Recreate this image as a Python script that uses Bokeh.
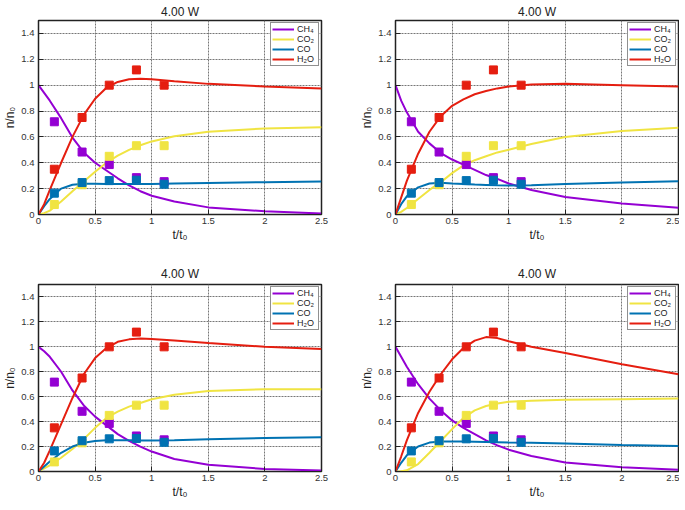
from bokeh.plotting import figure
from bokeh.layouts import column, row
from bokeh.models import Legend, LegendItem, FixedTicker, Range1d
from bokeh.embed import file_html
from bokeh.resources import INLINE

# ---------------- data ----------------
title_text = "4.00 W"
species = ["CH₄", "CO₂", "CO", "H₂O"]
colors = ["#9400D3", "#F0E442", "#0072B2", "#E51E10"]

x_ticks = [0, 0.5, 1, 1.5, 2, 2.5]
x_tick_labels = ["0", "0.5", "1", "1.5", "2", "2.5"]
y_ticks = [0, 0.2, 0.4, 0.6, 0.8, 1.0, 1.2, 1.4]
y_tick_labels = ["0", "0.2", "0.4", "0.6", "0.8", "1", "1.2", "1.4"]

# experimental points (same in every panel)
t_exp = [0.14, 0.385, 0.625, 0.865, 1.11]
ch4_exp = [0.717, 0.483, 0.386, 0.285, 0.254]
co2_exp = [0.077, 0.23, 0.45, 0.532, 0.532]
co_exp = [0.165, 0.247, 0.262, 0.265, 0.234]
h2o_exp = [0.35, 0.75, 1.0, 1.118, 1.0]

# model curves
t_model = [0, 0.05, 0.1, 0.2, 0.3, 0.4, 0.5, 0.6, 0.7, 0.8, 0.9, 1.0, 1.2, 1.5, 2.0, 2.5]

ch4_a = [1.0, 0.94, 0.88, 0.745, 0.595, 0.48, 0.40, 0.34, 0.28, 0.225, 0.18, 0.145, 0.10, 0.055, 0.025, 0.008]
co2_a = [0, 0.01, 0.03, 0.10, 0.18, 0.255, 0.33, 0.40, 0.455, 0.50, 0.535, 0.565, 0.605, 0.64, 0.665, 0.675]
co_a = [0, 0.065, 0.12, 0.20, 0.23, 0.238, 0.237, 0.236, 0.235, 0.235, 0.235, 0.236, 0.239, 0.243, 0.25, 0.255]
h2o_a = [0, 0.08, 0.19, 0.40, 0.60, 0.77, 0.895, 0.98, 1.025, 1.045, 1.05, 1.045, 1.03, 1.01, 0.99, 0.975]

ch4_b = [1.0, 0.88, 0.79, 0.64, 0.55, 0.475, 0.425, 0.385, 0.345, 0.305, 0.275, 0.24, 0.19, 0.135, 0.085, 0.053]
co2_b = [0, 0.02, 0.05, 0.12, 0.19, 0.25, 0.32, 0.38, 0.42, 0.45, 0.48, 0.50, 0.545, 0.60, 0.645, 0.67]
co_b = [0, 0.08, 0.14, 0.21, 0.24, 0.245, 0.24, 0.236, 0.232, 0.229, 0.226, 0.225, 0.226, 0.235, 0.248, 0.258]
h2o_b = [0, 0.13, 0.26, 0.47, 0.64, 0.76, 0.84, 0.89, 0.93, 0.955, 0.975, 0.99, 1.005, 1.01, 1.0, 0.99]

ch4_c = [1.0, 0.965, 0.92, 0.80, 0.65, 0.53, 0.44, 0.37, 0.30, 0.245, 0.20, 0.16, 0.10, 0.055, 0.02, 0.008]
co2_c = [0, 0.025, 0.05, 0.11, 0.18, 0.26, 0.35, 0.43, 0.48, 0.52, 0.55, 0.58, 0.615, 0.645, 0.66, 0.66]
co_c = [0, 0.04, 0.08, 0.15, 0.20, 0.23, 0.245, 0.25, 0.25, 0.25, 0.249, 0.248, 0.25, 0.258, 0.268, 0.275]
h2o_c = [0, 0.07, 0.17, 0.38, 0.59, 0.78, 0.91, 0.99, 1.04, 1.06, 1.067, 1.063, 1.05, 1.03, 1.0, 0.982]

ch4_d = [1.0, 0.92, 0.84, 0.70, 0.585, 0.49, 0.41, 0.35, 0.30, 0.25, 0.21, 0.175, 0.125, 0.072, 0.034, 0.015]
co2_d = [0, 0.003, 0.01, 0.06, 0.15, 0.245, 0.34, 0.43, 0.49, 0.525, 0.545, 0.56, 0.568, 0.575, 0.58, 0.585]
co_d = [0, 0.07, 0.13, 0.20, 0.232, 0.24, 0.241, 0.24, 0.239, 0.237, 0.235, 0.233, 0.23, 0.225, 0.212, 0.205]
h2o_d = [0, 0.12, 0.25, 0.47, 0.64, 0.78, 0.90, 0.99, 1.05, 1.078, 1.07, 1.045, 1.0, 0.95, 0.86, 0.78]

exp_series = [ch4_exp, co2_exp, co_exp, h2o_exp]
panels = [
    [ch4_a, co2_a, co_a, h2o_a],
    [ch4_b, co2_b, co_b, h2o_b],
    [ch4_c, co2_c, co_c, h2o_c],
    [ch4_d, co2_d, co_d, h2o_d],
]

FONT = "Liberation Sans"


def make_panel(models, fw, fh, bl, br, bt, bb, title_standoff):
    p = figure(frame_width=fw, frame_height=fh,
               x_range=Range1d(0, 2.5), y_range=Range1d(0, 1.5),
               output_backend="svg", toolbar_location=None,
               min_border_left=bl, min_border_right=br,
               min_border_top=bt, min_border_bottom=bb,
               background_fill_color="white", border_fill_color="white")
    p.title.text = title_text
    p.title.align = "center"
    p.title.text_font = FONT
    p.title.text_font_size = "12px"
    p.title.text_font_style = "normal"
    p.title.text_color = "#222222"
    p.title.standoff = title_standoff

    p.outline_line_color = "#222222"
    p.outline_line_width = 1.5

    for ax in (p.xaxis, p.yaxis):
        ax.major_tick_in = 5
        ax.major_tick_out = 0
        ax.minor_tick_line_color = None
        ax.axis_line_color = "#222222"
        ax.major_tick_line_color = "#222222"
        ax.major_label_text_font = FONT
        ax.major_label_text_font_size = "9.5px"
        ax.major_label_text_color = "#333333"
        ax.axis_label_text_font = FONT
        ax.axis_label_text_font_size = "12px"
        ax.axis_label_text_font_style = "normal"
        ax.axis_label_text_color = "#222222"

    p.xaxis.ticker = FixedTicker(ticks=x_ticks)
    p.yaxis.ticker = FixedTicker(ticks=y_ticks)
    p.xaxis.major_label_overrides = {k: v for k, v in zip(x_ticks, x_tick_labels)}
    p.yaxis.major_label_overrides = {k: v for k, v in zip(y_ticks, y_tick_labels)}
    p.xaxis.axis_label = "t/t₀"
    p.yaxis.axis_label = "n/n₀"
    p.xaxis.major_label_standoff = 3
    p.yaxis.major_label_standoff = 4
    p.xaxis.axis_label_standoff = 1
    p.yaxis.axis_label_standoff = 1

    for g in (p.xgrid, p.ygrid):
        g.grid_line_color = "#777777"
        g.grid_line_dash = "2 1"
        g.grid_line_width = 1
    p.xgrid.ticker = FixedTicker(ticks=x_ticks)
    p.ygrid.ticker = FixedTicker(ticks=y_ticks)

    items = []
    for name, col, m in zip(species, colors, models):
        r = p.line(t_model, m, line_color=col, line_width=2)
        items.append(LegendItem(label=name, renderers=[r]))
    for col, e in zip(colors, exp_series):
        p.scatter(t_exp, e, marker="square", size=8, fill_color=col, line_color=col)

    leg = Legend(items=items, location="top_right")
    leg.label_text_font = FONT
    leg.label_text_font_size = "9px"
    leg.label_text_color = "#222222"
    leg.label_height = 6
    leg.glyph_height = 6
    leg.glyph_width = 22
    leg.spacing = 0
    leg.padding = 1
    leg.margin = 2
    leg.label_standoff = 3
    leg.border_line_color = "#222222"
    leg.border_line_width = 1.5
    leg.background_fill_alpha = 1
    p.add_layout(leg, "center")
    return p


p1 = make_panel(panels[0], 283, 194, 33, 36, 12, 38, 4)
p2 = make_panel(panels[1], 283, 194, 33, 1, 12, 38, 4)
p3 = make_panel(panels[2], 283, 187, 33, 36, 32, 31, 8)
p4 = make_panel(panels[3], 283, 187, 33, 1, 32, 31, 8)

layout = column(row(p1, p2), row(p3, p4))

open("out.html", "w").write(file_html(layout, INLINE))
